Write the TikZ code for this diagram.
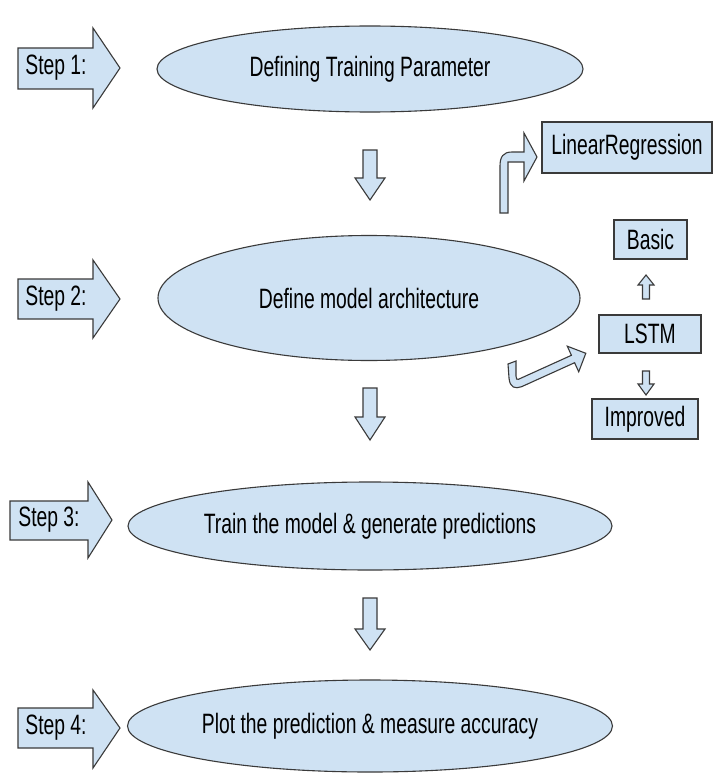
\documentclass[tikz,border=0pt]{standalone}
\usepackage{fontspec}
\setmainfont{Liberation Sans}[FakeStretch=0.69]
\usetikzlibrary{shapes.geometric}
\definecolor{fillblue}{HTML}{CFE2F3}
\definecolor{edgegray}{HTML}{3A3A3A}
\begin{document}
\begin{tikzpicture}[x=1pt,y=-1pt,
  shp/.style={draw=edgegray, fill=fillblue, line width=1.1pt, line join=miter},
  txt/.style={font=\fontsize{28}{32}\selectfont, text=black, inner sep=0pt},
  oval/.style={shp, ellipse, inner sep=0pt, outer sep=0pt, txt},
  box/.style={shp, rectangle, inner sep=0pt, outer sep=0pt, txt}]
\useasboundingbox[fill=white] (0,0) rectangle (720,781);

% step arrows
\draw[shp] (18,48) -- (93,48) -- (93,28) -- (120,68) -- (93,108) -- (93,89) -- (18,89) -- cycle;
\node[txt] (s1) at (56,68) {Step 1:};
\draw[shp] (18,279) -- (93,279) -- (93,260) -- (120,299) -- (93,338) -- (93,319) -- (18,319) -- cycle;
\node[txt] (s2) at (56,299) {Step 2:};
\draw[shp] (10,501) -- (88,501) -- (88,482) -- (112,520) -- (88,558) -- (88,540) -- (10,540) -- cycle;
\node[txt] (s3) at (49,520) {Step 3:};
\draw[shp] (18,708) -- (93,708) -- (93,690) -- (120,728) -- (93,768) -- (93,748) -- (18,748) -- cycle;
\node[txt] (s4) at (56,728) {Step 4:};

% ellipses
\node[oval, minimum width=426pt, minimum height=86pt] (e1) at (370,69) {Defining Training Parameter};
\node[oval, minimum width=422pt, minimum height=125pt] (e2) at (369,298) {Define model architecture};
\node[oval, minimum width=484pt, minimum height=88pt] (e3) at (370,526) {Train the model \& generate predictions};
\node[oval, minimum width=485pt, minimum height=92pt] (e4) at (370,726) {Plot the prediction \& measure accuracy};

% down block arrows
\draw[shp] (363,150) -- (377,150) -- (377,178) -- (385,178) -- (370,200) -- (355,178) -- (363,178) -- cycle;
\draw[shp] (363,388) -- (377,388) -- (377,417) -- (385,417) -- (370,440) -- (355,417) -- (363,417) -- cycle;
\draw[shp] (363,598) -- (377,598) -- (377,629) -- (385,629) -- (370,650) -- (355,629) -- (363,629) -- cycle;

% side boxes
\node[box, minimum width=170pt, minimum height=51pt] (lr) at (627,147.5) {LinearRegression};
\node[box, minimum width=73pt, minimum height=39pt] (basic) at (650.5,239.5) {Basic};
\node[box, minimum width=102pt, minimum height=38pt] (lstm) at (650,334) {LSTM};
\node[box, minimum width=106pt, minimum height=40pt] (imp) at (645,419) {Improved};

% bent arrow to LinearRegression
\draw[shp] (500,213) -- (500,166) .. controls (500,157) and (503,152) .. (512,152) -- (524,152) -- (524,133) -- (537,157) -- (524,181) -- (524,162) -- (508,162) -- (508,213) -- cycle;

% curved arrow to LSTM
\draw[shp] (508,364) -- (509,378) .. controls (510,388) and (515,389) .. (521.6,386.7) -- (574.6,362.7) -- (578.7,371.8) -- (585.8,353.3) -- (567.3,346.2) -- (571.4,355.3) -- (518.4,379.3) .. controls (517,380) and (516,379) .. (516,376) -- (516,361) -- cycle;

% small arrows between LSTM and Basic / Improved
\draw[shp] (642.5,299) -- (642.5,285) -- (638,285) -- (646,275) -- (654,285) -- (649.5,285) -- (649.5,299) -- cycle;
\draw[shp] (642.5,371) -- (649.5,371) -- (649.5,384) -- (654,384) -- (646,395) -- (638,384) -- (642.5,384) -- cycle;
\end{tikzpicture}
\end{document}
